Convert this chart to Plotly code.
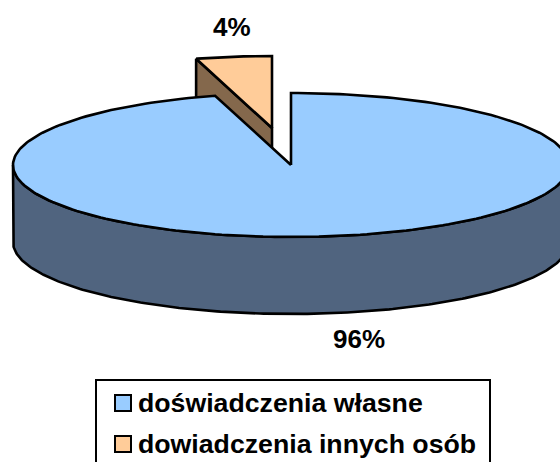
import numpy as np
import plotly.graph_objects as go

categories = ["doświadczenia własne", "dowiadczenia innych osób"]
values = [95.6, 4.4]
labels = ["96%", "4%"]
top_colors = ["#99CCFF", "#FFCC99"]
side_colors = ["#50647F", "#84684C"]

# projection of the tilted pie onto the page
CX, CY, RX, RY, DEPTH = 291, 165, 278, 72, 77
EXPLODE = (-19, -37)
FONT = "Liberation Sans, Arial, sans-serif"

# legend layout (page pixels); the box runs off the bottom of the page, as in the source
LEG_BOX = (96, 380, 490, 475)
LEG_KEY_X, LEG_TEXT_X = 123, 136
LEG_ROW_Y = [403, 444]

fracs = np.array(values) / sum(values)
main_sweep = fracs[0] * 360


def arc(a0, a1, off=(0, 0), drop=0):
    t = np.radians(np.linspace(a0, a1, 240))
    return CX + off[0] + RX * np.sin(t), CY + off[1] + drop - RY * np.cos(t)


fig = go.Figure()


def poly(x, y, color, width=2.6):
    fig.add_trace(go.Scatter(x=x, y=y, mode="lines", fill="toself", fillcolor=color,
                             line=dict(color="black", width=width),
                             showlegend=False, hoverinfo="skip"))


# exploded slice: side wall, then top
ax, ay = arc(main_sweep, 360, EXPLODE)
cx2, cy2 = CX + EXPLODE[0], CY + EXPLODE[1]
poly([ax[0], ax[0], cx2, cx2, ax[0]],
     [ay[0], ay[0] + DEPTH, cy2 + DEPTH, cy2, ay[0]], side_colors[1])
poly(np.r_[cx2, ax, cx2], np.r_[cy2, ay, cy2], top_colors[1])

# main slice: outer wall, then top
ux, uy = arc(90, 270)
lx, ly = arc(270, 90, drop=DEPTH)
poly(np.r_[ux, lx, ux[0]], np.r_[uy, ly, uy[0]], side_colors[0])
mx, my = arc(0, main_sweep)
poly(np.r_[CX, mx, CX], np.r_[CY, my, CY], top_colors[0])

# value labels
fig.add_annotation(x=359, y=339, text=f"<b>{labels[0]}</b>", showarrow=False,
                   font=dict(family=FONT, size=26, color="black"))
fig.add_annotation(x=232, y=27, text=f"<b>{labels[1]}</b>", showarrow=False,
                   font=dict(family=FONT, size=26, color="black"))

# legend box, keys and texts
fig.add_shape(type="rect", x0=LEG_BOX[0], y0=LEG_BOX[1], x1=LEG_BOX[2], y1=LEG_BOX[3],
              line=dict(color="black", width=2), fillcolor="white", layer="below")
for i, name in enumerate(categories):
    fig.add_trace(go.Scatter(x=[LEG_KEY_X], y=[LEG_ROW_Y[i]], mode="markers", showlegend=False,
                             hoverinfo="skip",
                             marker=dict(symbol="square", size=16, color=top_colors[i],
                                         line=dict(color="black", width=2))))
    fig.add_annotation(x=LEG_TEXT_X, y=LEG_ROW_Y[i], text=f"<b>{name}</b>", showarrow=False,
                       xanchor="left", yanchor="middle",
                       font=dict(family=FONT, size=26.7, color="black"))

fig.update_layout(
    width=560, height=462, margin=dict(l=0, r=0, t=0, b=0),
    paper_bgcolor="white", plot_bgcolor="white",
    xaxis=dict(range=[0, 560], visible=False, fixedrange=True),
    yaxis=dict(range=[462, 0], visible=False, fixedrange=True),
    showlegend=False,
)
fig.write_html("out.html", config=dict(displayModeBar=False),
               post_script="document.body.style.margin='0';document.body.style.overflow='hidden';")
